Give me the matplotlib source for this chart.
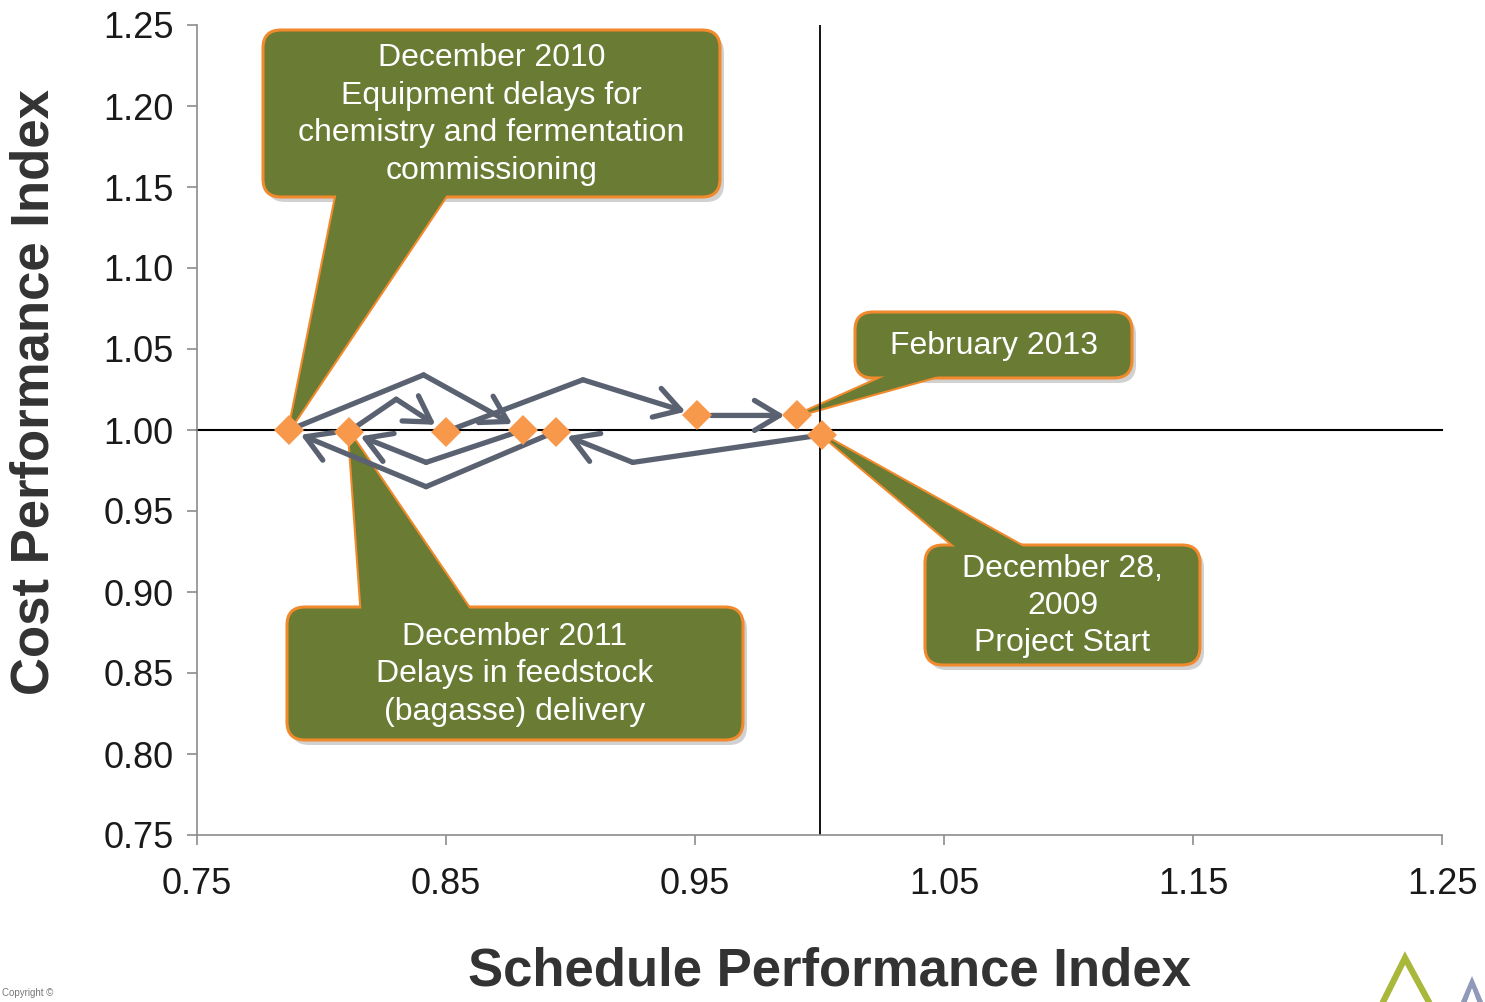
import matplotlib
matplotlib.use("Agg")
import matplotlib.pyplot as plt
from matplotlib.patches import FancyBboxPatch, Polygon
from matplotlib.transforms import Affine2D

plt.rcParams['font.family'] = ['Liberation Sans', 'DejaVu Sans']

# monthly milestones in chronological order (SPI, CPI)
milestone_spi = [1.001, 0.894, 0.787, 0.881, 0.811, 0.850, 0.951, 0.991]
milestone_cpi = [0.997, 0.999, 1.000, 1.000, 0.999, 0.999, 1.009, 1.009]
# turning point of the path between two milestones (None = straight arrow)
turn_spi = [0.925, 0.842, 0.841, 0.842, 0.830, 0.905, None]
turn_cpi = [0.980, 0.965, 1.034, 0.980, 1.019, 1.031, None]

x_ticks = [0.75, 0.85, 0.95, 1.05, 1.15, 1.25]
y_ticks = [0.75, 0.80, 0.85, 0.90, 0.95, 1.00, 1.05, 1.10, 1.15, 1.20, 1.25]

callout_texts = [
    "December 2010\nEquipment delays for\nchemistry and fermentation\ncommissioning",
    "December 2011\nDelays in feedstock\n(bagasse) delivery",
    "February 2013",
    "December 28,\n2009\nProject Start",
]
callout_target = [2, 4, 7, 0]   # milestone each callout points at

# callout layout in picture pixels: box (x0, y0, x1, y1), wedge base x range, side
callout_box = [(263, 30, 720, 197), (287, 607, 743, 740),
               (855, 312, 1132, 378), (925, 545, 1200, 665)]
callout_base = [(338, 452), (362, 475), (903, 967), (965, 1038)]
callout_side = ['bottom', 'top', 'bottom', 'top']

W, H = 1485, 1002
GREEN = '#6a7b34'
ORANGE = '#f08a2c'
DIAMOND = '#f7984a'
ARROW = '#5a6170'

fig = plt.figure(figsize=(W / 100, H / 100), dpi=100)
ax = fig.add_axes([197 / W, 1 - 835 / H, (1442 - 197) / W, (835 - 25) / H])
pxT = Affine2D().scale(1 / W, -1 / H).translate(0, 1) + fig.transFigure

ax.set_xlim(0.75, 1.25)
ax.set_ylim(0.75, 1.25)
ax.set_xticks(x_ticks)
ax.set_yticks(y_ticks)
ax.set_xticklabels([f"{v:.2f}" for v in x_ticks])
ax.set_yticklabels([f"{v:.2f}" for v in y_ticks])
for s in ['top', 'right']:
    ax.spines[s].set_visible(False)
for s in ['left', 'bottom']:
    ax.spines[s].set_color('#8c8c8c')
    ax.spines[s].set_linewidth(1.2)
ax.tick_params(direction='out', length=7, width=1.2, color='#8c8c8c',
               labelsize=26, labelcolor='#1a1a1a')
ax.tick_params(axis='y', pad=10)
ax.tick_params(axis='x', pad=16)

# reference lines at 1.0
ax.axhline(1.0, color='black', lw=1.5, zorder=2.5, clip_on=False)
ax.axvline(1.0, color='black', lw=1.3, zorder=2.5)

# path with arrows
for i in range(len(milestone_spi) - 1):
    p0 = (milestone_spi[i], milestone_cpi[i])
    p1 = (milestone_spi[i + 1], milestone_cpi[i + 1])
    style = dict(arrowstyle='->,head_length=0.75,head_width=0.45', color=ARROW,
                 lw=3.8, mutation_scale=24, capstyle='round', joinstyle='round')
    if turn_spi[i] is not None:
        t = (turn_spi[i], turn_cpi[i])
        ax.plot([p0[0], t[0]], [p0[1], t[1]], color=ARROW, lw=3.8,
                solid_capstyle='round', zorder=3)
        ax.annotate("", xy=p1, xytext=t,
                    arrowprops=dict(shrinkA=0, shrinkB=9, **style), zorder=3)
    else:
        ax.annotate("", xy=p1, xytext=p0,
                    arrowprops=dict(shrinkA=10, shrinkB=9, **style), zorder=3)

ax.plot(milestone_spi, milestone_cpi, linestyle='none', marker='D',
        markersize=15, color=DIAMOND, markeredgewidth=0, zorder=4)

# callouts
for text, k, box, base, side in zip(callout_texts, callout_target,
                                    callout_box, callout_base, callout_side):
    x0, y0, x1, y1 = box
    tip_disp = ax.transData.transform((milestone_spi[k], milestone_cpi[k]))
    tip = pxT.inverted().transform(tip_disp)
    by = y1 - 10 if side == 'bottom' else y0 + 10
    wedge = [(base[0], by), tuple(tip), (base[1], by)]
    rnd = 'round,pad=0,rounding_size=18'
    shadow = FancyBboxPatch((x0 + 4, y0 + 5), x1 - x0, y1 - y0, boxstyle=rnd,
                            transform=pxT, facecolor='#000000', alpha=0.18,
                            edgecolor='none', zorder=1.5, clip_on=False)
    ax.add_patch(shadow)
    ax.add_patch(Polygon(wedge, closed=True, transform=pxT, facecolor=GREEN,
                         edgecolor=ORANGE, lw=3, zorder=2, clip_on=False,
                         joinstyle='miter'))
    ax.add_patch(FancyBboxPatch((x0, y0), x1 - x0, y1 - y0, boxstyle=rnd,
                                transform=pxT, facecolor=GREEN, edgecolor=ORANGE,
                                lw=2.2, zorder=2.1, clip_on=False))
    ax.add_patch(Polygon(wedge, closed=True, transform=pxT, facecolor=GREEN,
                         edgecolor='none', zorder=2.2, clip_on=False))
    ax.text((x0 + x1) / 2, (y0 + y1) / 2 + 1, text, transform=pxT, ha='center',
            va='center', color='white', fontsize=23, linespacing=1.32,
            zorder=2.3)

# axis titles
fig.text(35 / W, 1 - 392 / H, "Cost Performance Index", rotation=90,
         ha='center', va='center', fontsize=38, fontweight='bold', color='#333333')
fig.text(830 / W, 1 - 972 / H, "Schedule Performance Index", ha='center',
         va='center', fontsize=38, fontweight='bold', color='#333333')

# partial logo in corner
fig.add_artist(Polygon([(1382, 1004), (1405, 958), (1430, 1004)], closed=False,
                       transform=pxT, fill=False, edgecolor='#a9b73a', lw=4.5))
fig.add_artist(Polygon([(1460, 1004), (1472, 976), (1484, 1004), (1478, 1004),
                        (1472, 988), (1466, 1004)], closed=True,
                       transform=pxT, facecolor='#9199b8', edgecolor='none'))
fig.text(2 / W, 1 - 993 / H, "Copyright ©", ha='left', va='center',
         fontsize=7, color='#777777')

fig.savefig('out.png', dpi=100)
